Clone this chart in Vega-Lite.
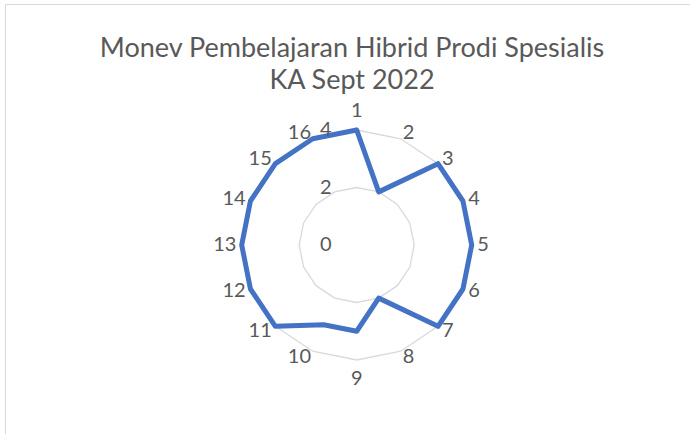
{
  "$schema": "https://vega.github.io/schema/vega-lite/v6.json",
  "width": 690,
  "height": 440,
  "autosize": {"type": "none"},
  "padding": {"left": 5, "top": 4, "right": 0, "bottom": 0},
  "background": "white",
  "config": {"view": {"stroke": "#d9d9d9", "strokeWidth": 1}, "font": "Lato"},
  "title": {
    "text": ["Monev Pembelajaran Hibrid Prodi Spesialis", "KA Sept 2022"],
    "font": "Lato",
    "fontSize": 27,
    "fontWeight": "normal",
    "color": "#595959",
    "lineHeight": 32,
    "anchor": "middle",
    "dx": 2,
    "offset": -91
  },
  "datasets": {
    "series": [
      {"axis": 1, "value": 4},
      {"axis": 2, "value": 2},
      {"axis": 3, "value": 4},
      {"axis": 4, "value": 4},
      {"axis": 5, "value": 4},
      {"axis": 6, "value": 4},
      {"axis": 7, "value": 4},
      {"axis": 8, "value": 2},
      {"axis": 9, "value": 3},
      {"axis": 10, "value": 3},
      {"axis": 11, "value": 4},
      {"axis": 12, "value": 4},
      {"axis": 13, "value": 4},
      {"axis": 14, "value": 4},
      {"axis": 15, "value": 4},
      {"axis": 16, "value": 4}
    ],
    "ticks": [{"tick": 0}, {"tick": 2}, {"tick": 4}]
  },
  "layer": [
    {
      "data": {"name": "series"},
      "transform": [
        {"calculate": "[2,4]", "as": "lev"},
        {"flatten": ["lev"]},
        {"calculate": "datum.axis == 1 ? [0,16] : [datum.axis - 1]", "as": "ks"},
        {"flatten": ["ks"]},
        {"calculate": "datum.ks * 2 * PI / 16", "as": "theta"},
        {"calculate": "datum.lev * sin(datum.theta)", "as": "rx"},
        {"calculate": "datum.lev * cos(datum.theta)", "as": "ry"}
      ],
      "mark": {"type": "line", "stroke": "#d9d9d9", "strokeWidth": 1.3},
      "encoding": {
        "x": {"field": "rx", "type": "quantitative", "axis": null, "scale": {"domain": [-12.233, 11.767], "nice": false, "zero": false}},
        "y": {"field": "ry", "type": "quantitative", "axis": null, "scale": {"domain": [-6.922, 8.383], "nice": false, "zero": false}},
        "detail": {"field": "lev"},
        "order": {"field": "ks"}
      }
    },
    {
      "data": {"name": "series"},
      "transform": [
        {"calculate": "datum.axis == 1 ? [0,16] : [datum.axis - 1]", "as": "ks"},
        {"flatten": ["ks"]},
        {"calculate": "datum.ks * 2 * PI / 16", "as": "theta"},
        {"calculate": "datum.value * sin(datum.theta)", "as": "px"},
        {"calculate": "datum.value * cos(datum.theta)", "as": "py"}
      ],
      "mark": {"type": "line", "stroke": "#4472C4", "strokeWidth": 5, "strokeJoin": "round", "strokeCap": "round"},
      "encoding": {
        "x": {"field": "px", "type": "quantitative"},
        "y": {"field": "py", "type": "quantitative"},
        "order": {"field": "ks"}
      }
    },
    {
      "data": {"name": "series"},
      "transform": [
        {"calculate": "(datum.axis - 1) * 2 * PI / 16", "as": "theta"},
        {"calculate": "sin(datum.theta)", "as": "s"},
        {"calculate": "cos(datum.theta)", "as": "c"},
        {"calculate": "length(toString(datum.axis))", "as": "n"},
        {"calculate": "4.209 * datum.s + 0.19 * datum.n * (datum.s > 0.3 ? 1 : datum.s < -0.3 ? -1 : 0)", "as": "lx"},
        {"calculate": "4.209 * datum.c + 0.46 * (datum.c > 0.97 ? 1 : datum.c < -0.97 ? -1 : 0)", "as": "ly"}
      ],
      "mark": {"type": "text", "fontSize": 20, "color": "#595959", "align": "center", "baseline": "middle"},
      "encoding": {
        "x": {"field": "lx", "type": "quantitative"},
        "y": {"field": "ly", "type": "quantitative"},
        "text": {"field": "axis", "type": "nominal"}
      }
    },
    {
      "data": {"name": "ticks"},
      "mark": {"type": "text", "fontSize": 20, "color": "#595959", "align": "center", "baseline": "middle", "dx": -31},
      "encoding": {
        "x": {"datum": 0, "type": "quantitative"},
        "y": {"field": "tick", "type": "quantitative"},
        "text": {"field": "tick", "type": "nominal"}
      }
    }
  ]
}
